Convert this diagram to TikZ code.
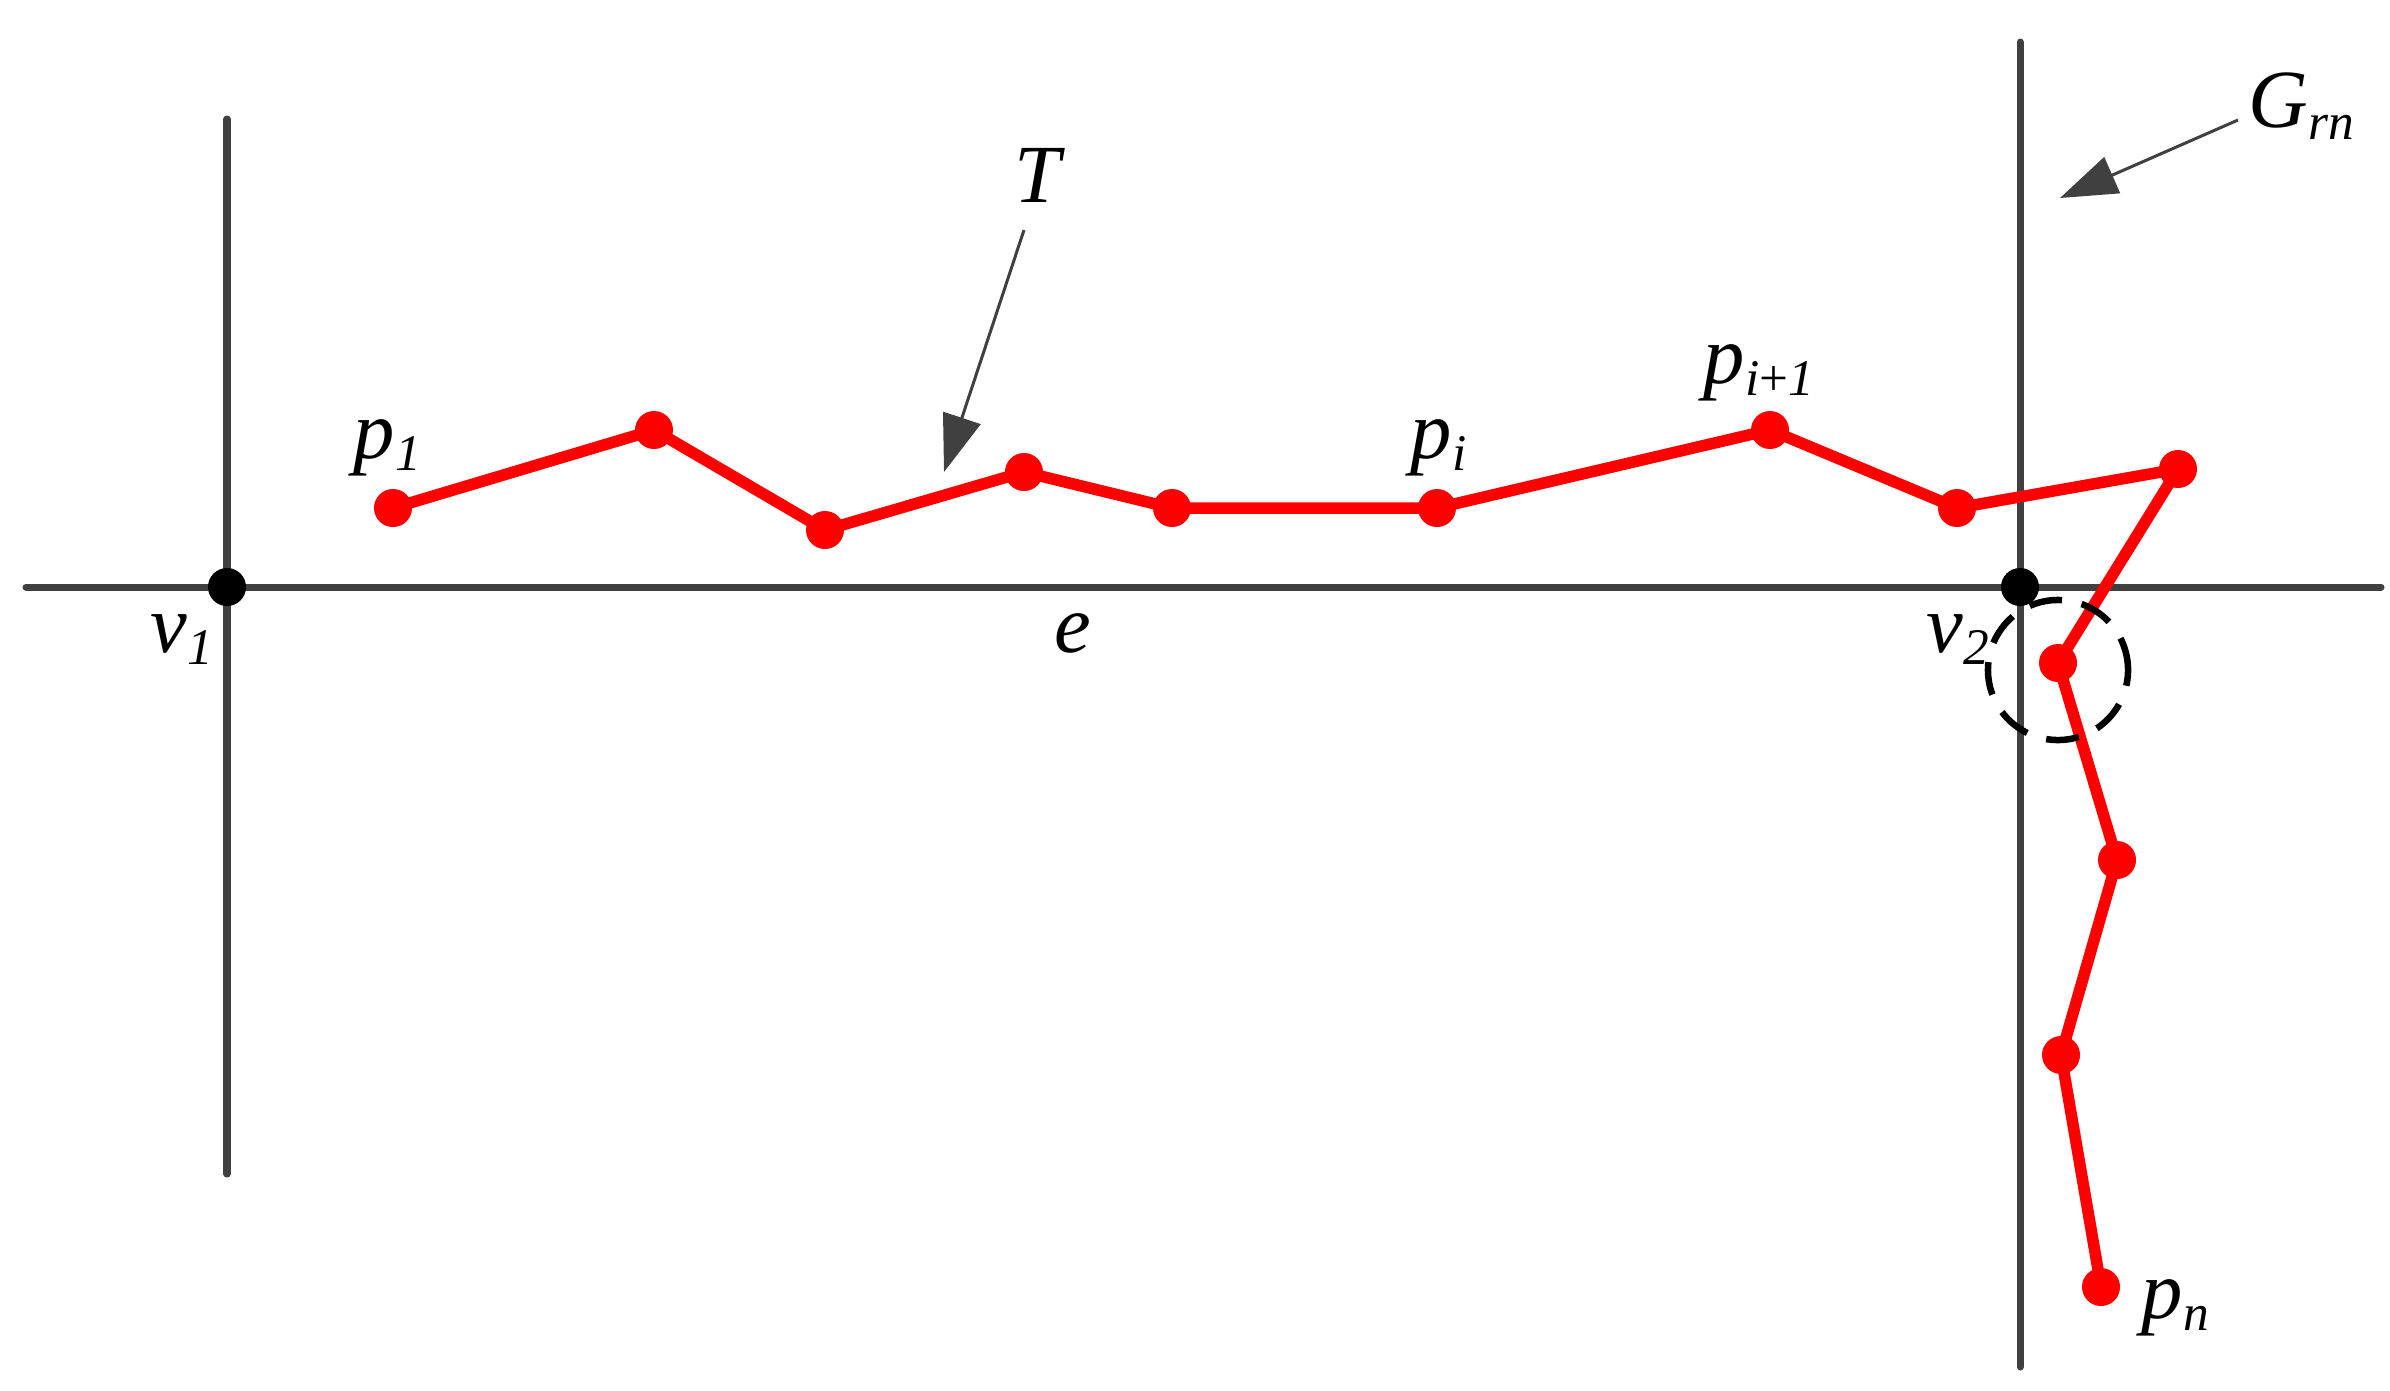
\documentclass[tikz,border=0pt]{standalone}
\usepackage{fontspec}
\setmainfont{Liberation Serif}[ItalicFont=Liberation Serif Italic]
\usetikzlibrary{arrows.meta}
\definecolor{axisgray}{HTML}{404040}
\definecolor{trajred}{HTML}{FF0000}
\newcommand{\mylab}[2]{\textit{#1}\raisebox{-0.15em}{\fontsize{14.6}{14.6}\selectfont #2}}
\tikzset{
  axisline/.style={draw=axisgray, line width=0.07cm, line cap=round},
  trajline/.style={draw=trajred, line width=0.115cm, line join=round},
  rdot/.style={circle, fill=trajred, inner sep=0pt, minimum size=0.38cm},
  bdot/.style={circle, fill=black, inner sep=0pt, minimum size=0.38cm},
  zone/.style={circle, draw=black, line width=0.065cm, dash pattern=on 0.33cm off 0.2cm, inner sep=0pt, minimum size=1.4cm},
  pointer/.style={draw=axisgray, line width=0.03cm, -{Triangle[length=0.57cm,width=0.39cm]}, color=axisgray},
  lab/.style={anchor=base west, inner sep=0pt, text=black}
}
\begin{document}
\begin{tikzpicture}[x=0.01cm, y=-0.01cm, font=\fontsize{23.5}{27}\selectfont]
\useasboundingbox (0,0) rectangle (2390,1390);
% axes
\coordinate (hL) at (26,587);
\coordinate (hR) at (2381,587);
\coordinate (aT) at (227,119);
\coordinate (aB) at (227,1174);
\coordinate (bT) at (2020,42);
\coordinate (bB) at (2020,1367);
\draw[axisline] (hL) -- (hR);
\draw[axisline] (aT) -- (aB);
\draw[axisline] (bT) -- (bB);
% trajectory points
\node[rdot] (p1) at (393,508) {};
\node[rdot] (p2) at (654,430) {};
\node[rdot] (p3) at (825,530) {};
\node[rdot] (p4) at (1024,472) {};
\node[rdot] (p5) at (1172,508) {};
\node[rdot] (p6) at (1437,508) {};
\node[rdot] (p7) at (1770,430) {};
\node[rdot] (p8) at (1957,508) {};
\node[rdot] (p9) at (2178,469) {};
\node[rdot] (p10) at (2058,663) {};
\node[rdot] (p11) at (2117,860) {};
\node[rdot] (p12) at (2061,1055) {};
\node[rdot] (p13) at (2101,1287) {};
\draw[trajline] (p1.center) -- (p2.center) -- (p3.center) -- (p4.center) -- (p5.center) -- (p6.center) -- (p7.center) -- (p8.center) -- (p9.center) -- (p10.center) -- (p11.center) -- (p12.center) -- (p13.center);
% vertices
\node[bdot] (v1) at (227,587) {};
\node[bdot] (v2) at (2020,587) {};
% dashed circle
\node[zone] (zc) at (2058,670) {};
% arrows
\coordinate (Ts) at (1024,230);
\coordinate (Te) at (944,472);
\draw[pointer] (Ts) -- (Te);
\coordinate (Gs) at (2238,120);
\coordinate (Ge) at (2060,198);
\draw[pointer] (Gs) -- (Ge);
% labels
\node[lab] (Tlab) at (1014,202) {\textit{T}};
\node[lab] (Glab) at (2248,127) {\mylab{G}{\textit{rn}}};
\node[lab] (p1lab) at (353,458) {\mylab{p}{\textit{1}}};
\node[lab] (pilab) at (1410,458) {\mylab{p}{\textit{i}}};
\node[lab] (pi1lab) at (1703,383) {\mylab{p}{\textit{i}+\textit{1}}};
\node[lab] (pnlab) at (2141,1318) {\mylab{p}{\textit{n}}};
\node[lab] (v1lab) at (150,652) {\mylab{v}{\textit{1}}};
\node[lab] (v2lab) at (1926,652) {\mylab{v}{\textit{2}}};
\node[lab] (elab) at (1054,652) {\textit{e}};
\end{tikzpicture}
\end{document}
